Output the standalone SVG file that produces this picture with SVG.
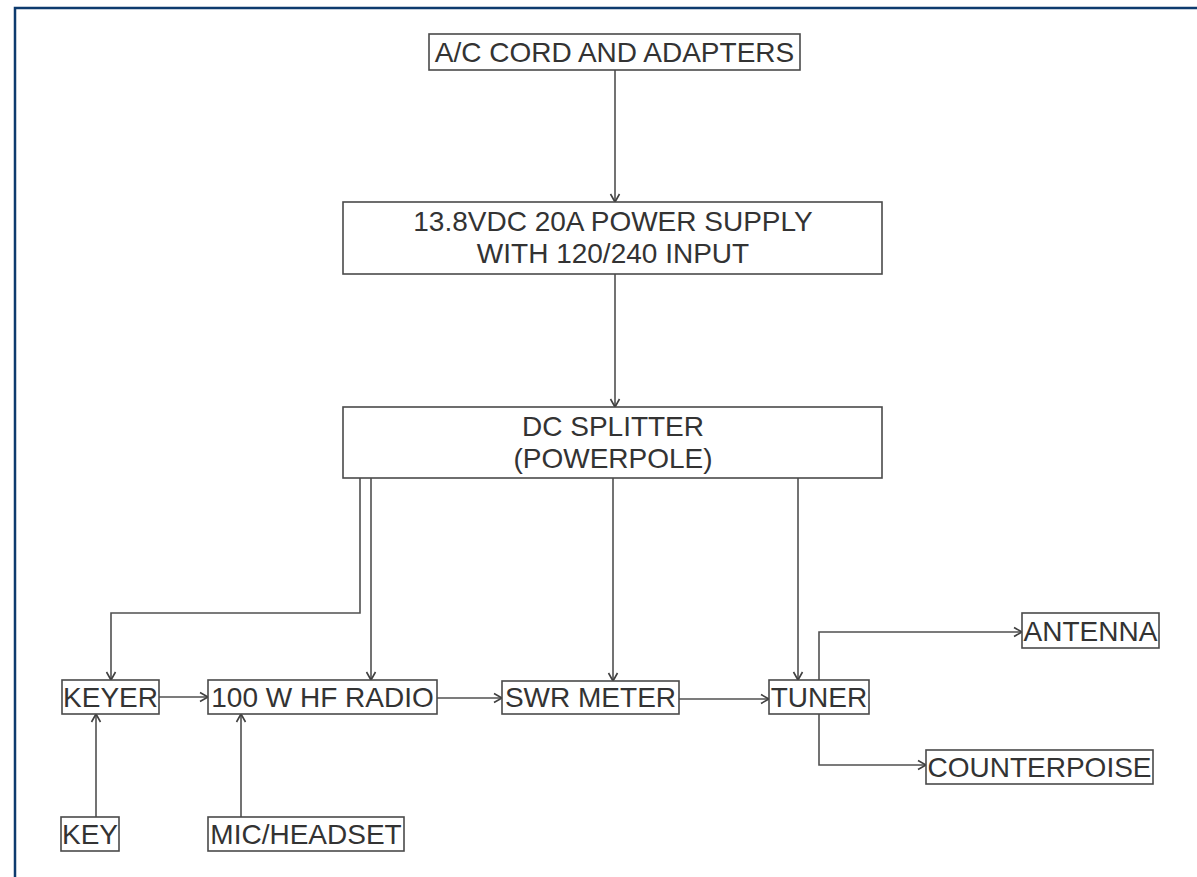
<svg xmlns="http://www.w3.org/2000/svg" width="1197" height="877" viewBox="0 0 1197 877">
  <defs>
    <style>
      .box { fill: #ffffff; stroke: #4a4a4a; stroke-width: 1.6; }
      .lbl { font-family: "Liberation Sans", Arial, sans-serif; font-size: 28px; fill: #333333; text-anchor: middle; }
      .wire { fill: none; stroke: #505050; stroke-width: 1.6; }
    </style>
    <marker id="arr" markerUnits="userSpaceOnUse" markerWidth="12" markerHeight="12" viewBox="-10 -6 12 12" refX="0" refY="0" orient="auto">
      <path d="M-8,-4.5 L0,0 L-8,4.5" fill="none" stroke="#404040" stroke-width="1.6"/>
    </marker>
  </defs>
  <rect x="0" y="0" width="1197" height="877" fill="#ffffff"/>
  <rect x="15" y="8" width="1200" height="900" fill="none" stroke="#0d3b6e" stroke-width="2.5"/>

  <g id="connectors">
    <path class="wire" d="M615,70 V202" marker-end="url(#arr)"/>
    <path class="wire" d="M615,274 V407" marker-end="url(#arr)"/>
    <path class="wire" d="M360,478 V613 H111 V680" marker-end="url(#arr)"/>
    <path class="wire" d="M371,478 V680" marker-end="url(#arr)"/>
    <path class="wire" d="M613,478 V681" marker-end="url(#arr)"/>
    <path class="wire" d="M798,478 V680" marker-end="url(#arr)"/>
    <path class="wire" d="M159,697 H208" marker-end="url(#arr)"/>
    <path class="wire" d="M437,698 H502" marker-end="url(#arr)"/>
    <path class="wire" d="M679,699 H769" marker-end="url(#arr)"/>
    <path class="wire" d="M819,680 V632 H1022" marker-end="url(#arr)"/>
    <path class="wire" d="M819,714 V765 H926" marker-end="url(#arr)"/>
    <path class="wire" d="M96,817 V714" marker-end="url(#arr)"/>
    <path class="wire" d="M241,817 V714" marker-end="url(#arr)"/>
  </g>

  <g id="ac-cord">
    <rect class="box" x="429" y="34" width="371" height="36"/>
    <text class="lbl" x="614.5" y="62">A/C CORD AND ADAPTERS</text>
  </g>
  <g id="power-supply">
    <rect class="box" x="343" y="202" width="539" height="72"/>
    <text class="lbl" x="613" y="231">13.8VDC 20A POWER SUPPLY</text>
    <text class="lbl" x="613" y="263">WITH 120/240 INPUT</text>
  </g>
  <g id="dc-splitter">
    <rect class="box" x="343" y="407" width="539" height="71"/>
    <text class="lbl" x="613" y="436">DC SPLITTER</text>
    <text class="lbl" x="613" y="468">(POWERPOLE)</text>
  </g>
  <g id="keyer">
    <rect class="box" x="62" y="680" width="97" height="34"/>
    <text class="lbl" x="110.5" y="707">KEYER</text>
  </g>
  <g id="radio">
    <rect class="box" x="208" y="680" width="229" height="34"/>
    <text class="lbl" x="322.5" y="707">100 W HF RADIO</text>
  </g>
  <g id="swr-meter">
    <rect class="box" x="502" y="681" width="177" height="33"/>
    <text class="lbl" x="590.5" y="707">SWR METER</text>
  </g>
  <g id="tuner">
    <rect class="box" x="769" y="680" width="100" height="34"/>
    <text class="lbl" x="819" y="707">TUNER</text>
  </g>
  <g id="antenna">
    <rect class="box" x="1022" y="613" width="137" height="35"/>
    <text class="lbl" x="1090.5" y="641">ANTENNA</text>
  </g>
  <g id="counterpoise">
    <rect class="box" x="926" y="750" width="227" height="34"/>
    <text class="lbl" x="1039.5" y="777">COUNTERPOISE</text>
  </g>
  <g id="key">
    <rect class="box" x="61" y="817" width="58" height="34"/>
    <text class="lbl" x="90" y="844">KEY</text>
  </g>
  <g id="mic-headset">
    <rect class="box" x="208" y="817" width="196" height="34"/>
    <text class="lbl" x="306" y="844">MIC/HEADSET</text>
  </g>
</svg>
